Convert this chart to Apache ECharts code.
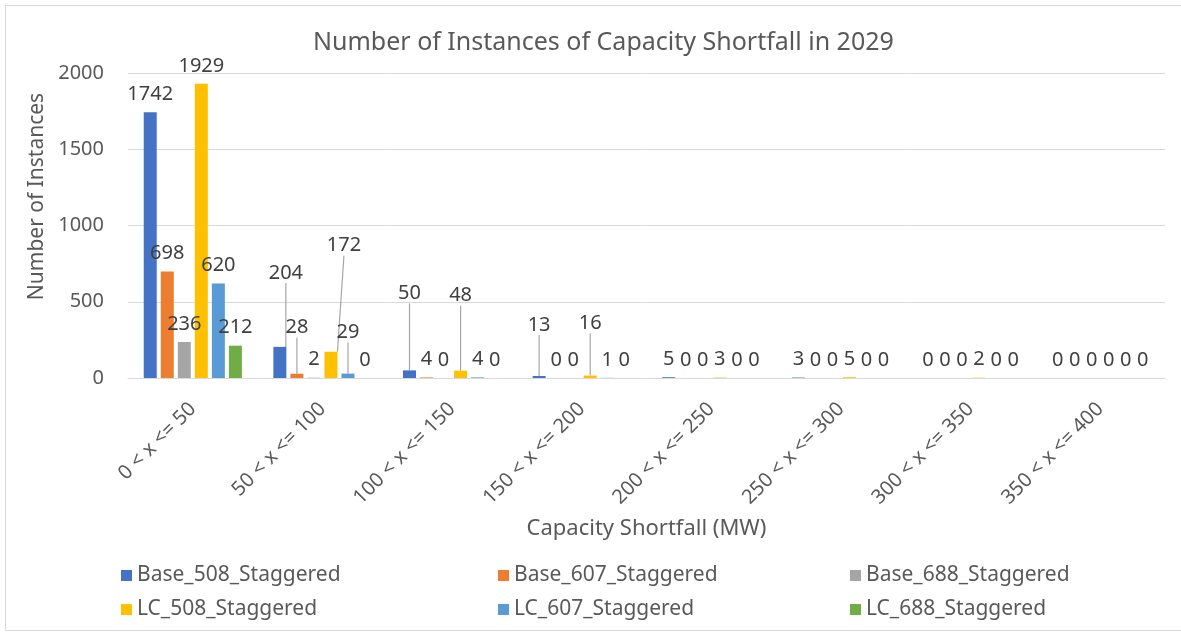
<!DOCTYPE html>
<html>
<head>
<meta charset="utf-8">
<script src="https://cdn.jsdelivr.net/npm/echarts@6/dist/echarts.min.js"></script>
<style>
  html, body { margin: 0; padding: 0; background: #fff; }
  #main { width: 1181px; height: 635px; }
  #frame { position: absolute; left: 5px; top: 5px; width: 1200px; height: 624px; border: 1px solid #d9d9d9; pointer-events: none; }
</style>
</head>
<body>
<div id="main"></div>
<div id="frame"></div>
<script>
var categories = ['0 < x <= 50', '50 < x <= 100', '100 < x <= 150', '150 < x <= 200',
  '200 < x <= 250', '250 < x <= 300', '300 < x <= 350', '350 < x <= 400'];
var seriesNames = ['Base_508_Staggered', 'Base_607_Staggered', 'Base_688_Staggered',
  'LC_508_Staggered', 'LC_607_Staggered', 'LC_688_Staggered'];
var base508 = [1742, 204, 50, 13, 5, 3, 0, 0];
var base607 = [698, 28, 4, 0, 0, 0, 0, 0];
var base688 = [236, 2, 0, 0, 0, 0, 0, 0];
var lc508 = [1929, 172, 48, 16, 3, 5, 2, 0];
var lc607 = [620, 29, 4, 1, 0, 0, 0, 0];
var lc688 = [212, 0, 0, 0, 0, 0, 0, 0];
var colors = ['#4472C4', '#ED7D31', '#A5A5A5', '#FFC000', '#5B9BD5', '#70AD47'];

var allData = [base508, base607, base688, lc508, lc607, lc688];
var txt = '#595959';
var font = 'Noto Sans';

// labels that were dragged away from their bars (series-category: [dx, dy])
var labelMoves = {
  '0-1': [6, -56], '1-1': [0, -28], '3-1': [13, -88], '4-1': [0, -23],
  '0-2': [0, -59], '3-2': [0, -57], '0-3': [0, -33], '3-3': [0, -34]
};

var chart = echarts.init(document.getElementById('main'));

var series = allData.map(function (d, i) {
  return {
    name: seriesNames[i],
    type: 'bar',
    data: d.map(function (v, j) {
      var moved = labelMoves[i + '-' + j];
      return moved ? { value: v, labelLine: { show: true } } : v;
    }),
    barWidth: 13,
    barGap: '31%',
    itemStyle: { color: colors[i] },
    label: {
      show: true,
      position: 'top',
      distance: 8,
      color: '#404040',
      fontSize: 20,
      fontFamily: font
    },
    labelLine: { show: false, lineStyle: { color: '#a6a6a6', width: 1.2 } },
    labelLayout: function (p) {
      var m = labelMoves[p.seriesIndex + '-' + p.dataIndex];
      return m ? { dx: m[0], dy: m[1] } : {};
    }
  };
});

// legend positions (two rows, three columns)
var legendLeft = [116, 493, 845, 116, 493, 845];
var legendTop = [560, 560, 560, 594, 594, 594];
var legends = seriesNames.map(function (n, i) {
  return {
    data: [n],
    left: legendLeft[i],
    top: legendTop[i],
    icon: 'rect',
    itemWidth: 11,
    itemHeight: 11,
    itemGap: 4,
    textStyle: { color: txt, fontSize: 21, fontFamily: font },
    selectedMode: false
  };
});

var option = {
  animation: false,
  backgroundColor: '#fff',
  title: {
    text: 'Number of Instances of Capacity Shortfall in 2029',
    left: 308,
    top: 25,
    textStyle: { color: txt, fontSize: 25, fontWeight: 'normal', fontFamily: font }
  },
  legend: legends,
  grid: { left: 128, right: 16, top: 73, bottom: 257 },
  xAxis: {
    type: 'category',
    data: categories,
    name: 'Capacity Shortfall (MW)',
    nameLocation: 'middle',
    nameGap: 140,
    nameTextStyle: { color: txt, fontSize: 22, fontFamily: font },
    axisLine: { lineStyle: { color: '#d9d9d9' } },
    axisTick: { show: false },
    axisLabel: { color: txt, fontSize: 20, fontFamily: font, rotate: 45, margin: 28, interval: 0 }
  },
  yAxis: {
    type: 'value',
    min: 0,
    max: 2000,
    interval: 500,
    name: 'Number of Instances',
    nameLocation: 'middle',
    nameGap: 74,
    nameTextStyle: { color: txt, fontSize: 21, fontFamily: font, padding: [0, 0, 0, 58] },
    axisLine: { show: false },
    axisTick: { show: false },
    axisLabel: {
      color: txt, fontSize: 20, fontFamily: font, margin: 24,
      formatter: function (v) { return String(v); }
    },
    splitLine: { lineStyle: { color: '#d9d9d9' } }
  },
  series: series
};

chart.setOption(option);
</script>
</body>
</html>
